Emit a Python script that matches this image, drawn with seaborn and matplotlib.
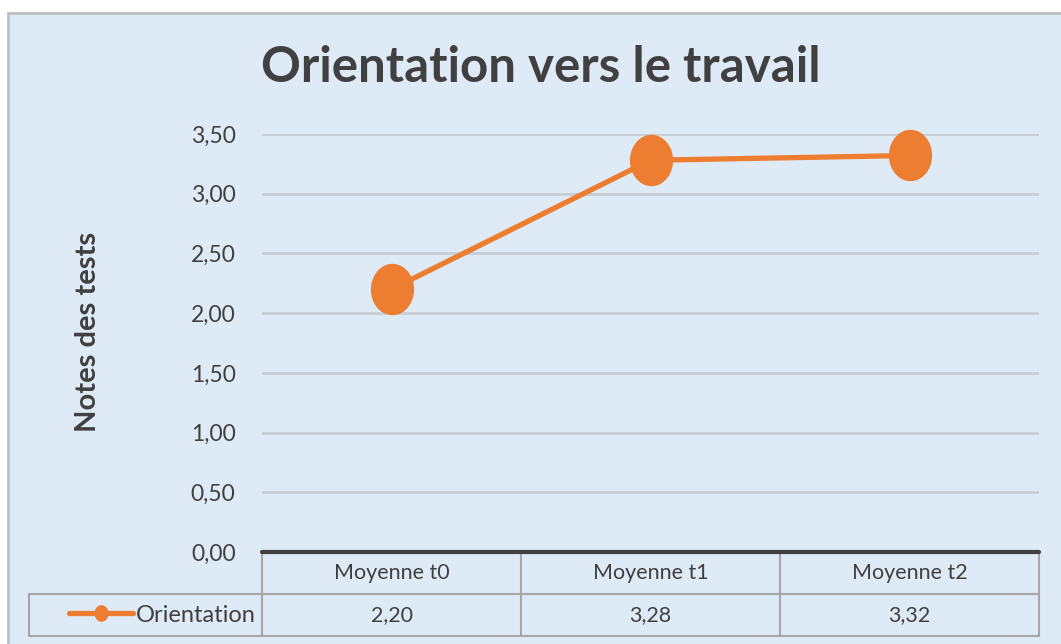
import numpy as np
import pandas as pd
import seaborn as sns
import matplotlib.pyplot as plt
from matplotlib.path import Path
from matplotlib.patches import Rectangle
from matplotlib.transforms import blended_transform_factory

## Data
categories = ["Moyenne t0", "Moyenne t1", "Moyenne t2"]
orientation = [2.20, 3.28, 3.32]
series_name = "Orientation"
y_ticks = [0.0, 0.5, 1.0, 1.5, 2.0, 2.5, 3.0, 3.5]

title = "Orientation vers le travail"
y_label = "Notes des tests"

## Colours
BG = "#DEEAF6"
ORANGE = "#ED7D31"
GRID = "#C6CED6"
TABLE_EDGE = "#A6A6A6"
TEXT = "#404040"

sns.set_theme(style="white")
plt.rcParams["font.family"] = ["Lato", "DejaVu Sans"]

df = pd.DataFrame({"cat": categories, "val": orientation})

fig = plt.figure(figsize=(10.61, 6.44), dpi=100)
fig.patch.set_facecolor("white")
W, H = 1061, 644

# chart area frame (excel-style), cut at right/bottom edges
fig.patches.append(Rectangle((8 / W, -0.01), 1.02, (644 - 13) / H + 0.01,
                             transform=fig.transFigure, facecolor=BG,
                             edgecolor="#BFBFBF", linewidth=2, zorder=-10))

ax = fig.add_axes([262 / W, 1 - 552 / H, (1039 - 262) / W, (552 - 134) / H])
ax.set_facecolor(BG)
ax.patch.set_alpha(0)

# ellipse marker (stretched like the source)
t = np.linspace(0, 2 * np.pi, 60)
ellipse = Path(np.column_stack([0.84 * np.cos(t), np.sin(t)]), closed=True)

sns.lineplot(data=df, x="cat", y="val", ax=ax, color=ORANGE, linewidth=3.8,
             marker=ellipse, markersize=37, markeredgewidth=0,
             label=series_name, sort=False, zorder=5, clip_on=False)

ax.set_xlim(-0.5, 2.5)
ax.set_ylim(0, 3.5)
ax.set_yticks(y_ticks)
ax.set_yticklabels([f"{v:.2f}".replace(".", ",") for v in y_ticks],
                   fontsize=16.5, color=TEXT)
ax.tick_params(axis="y", length=0, pad=19)
ax.set_xticks([])
ax.set_xlabel("")
ax.set_ylabel("")
for s in ax.spines.values():
    s.set_visible(False)
for v in y_ticks[1:]:
    ax.axhline(v, color=GRID, linewidth=2, zorder=1)
ax.axhline(0, color=TEXT, linewidth=3, zorder=3, clip_on=False)

fig.text(541 / W, 1 - 67 / H, title, ha="center", va="center",
         fontsize=35.5, fontweight="bold", color=TEXT)
fig.text(88 / W, 1 - 332 / H, y_label, ha="center", va="center",
         rotation=90, fontsize=21, fontweight="bold", color=TEXT)

## Data table below the axis
tr = blended_transform_factory(ax.transData, ax.transAxes)
r1 = -42 / 418
r2 = -84 / 418
left = -0.5 - (262 - 29) / 259
kw = dict(color=TABLE_EDGE, linewidth=1.5, transform=tr, clip_on=False)
ax.plot([-0.5, 2.5], [0, 0], **kw)
ax.plot([left, 2.5], [r1, r1], **kw)
ax.plot([left, 2.5], [r2, r2], **kw)
ax.plot([left, left], [r1, r2], **kw)
for xb in [-0.5, 0.5, 1.5, 2.5]:
    ax.plot([xb, xb], [0, r2], **kw)

for i, (c, v) in enumerate(zip(categories, orientation)):
    ax.text(i, r1 / 2, c, transform=tr, ha="center", va="center",
            fontsize=15.5, color=TEXT)
    ax.text(i, (r1 + r2) / 2, f"{v:.2f}".replace(".", ","), transform=tr,
            ha="center", va="center", fontsize=15.5, color=TEXT)

# legend key in the row-label cell, right-aligned
leg = ax.legend(loc="center right",
                bbox_to_anchor=(-0.5 - 6 / 259, (r1 + r2) / 2),
                bbox_transform=tr, frameon=False, fontsize=17,
                handlelength=2.7, handletextpad=0.15, borderaxespad=0,
                borderpad=0)
for h in leg.legend_handles:
    h.set_markersize(12)
for txt in leg.get_texts():
    txt.set_color(TEXT)

fig.savefig("out.png", dpi=100, facecolor=fig.get_facecolor())
